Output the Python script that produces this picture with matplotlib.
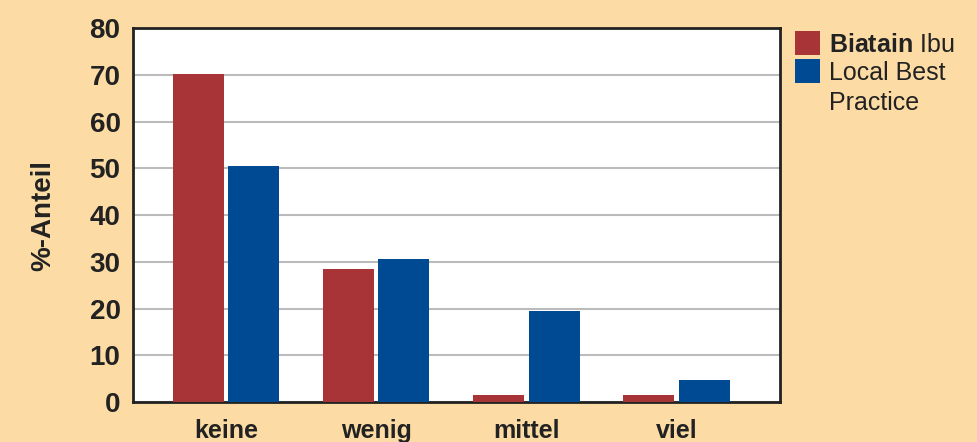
import numpy as np
import matplotlib.pyplot as plt

categories = ["keine", "wenig", "mittel", "viel"]
biatain = [70.2, 28.4, 1.6, 1.6]
local_best = [50.5, 30.6, 19.5, 4.6]
series_labels = [r"$\bf{Biatain}$ Ibu", "Local Best"]
label_tail = "Practice"
y_ticks = [0, 10, 20, 30, 40, 50, 60, 70, 80]

bg = "#FCDCA4"
red = "#A93438"
blue = "#004A93"
ink = "#222222"

plt.rcParams["font.family"] = ["Liberation Sans", "DejaVu Sans"]
plt.rcParams["mathtext.fontset"] = "custom"
plt.rcParams["mathtext.rm"] = "Liberation Sans"
plt.rcParams["mathtext.bf"] = "Liberation Sans:bold"

fig = plt.figure(figsize=(9.78, 4.42), dpi=100, facecolor=bg)
ax = fig.add_axes([0.136, 0.0905, 0.6615, 0.846])

x = np.arange(len(categories))
w = 0.34
off = 0.185
ax.bar(x - off, biatain, w, color=red, label=series_labels[0], zorder=3)
ax.bar(x + off, local_best, w, color=blue, label=series_labels[1], zorder=3)

ax.set_xlim(-0.62, 3.69)
ax.set_ylim(0, 80)
ax.set_yticks(y_ticks)
ax.set_yticklabels([str(t) for t in y_ticks], fontsize=20, fontweight="bold", color=ink)
ax.set_xticks(x)
ax.set_xticklabels(categories, fontsize=18, fontweight="bold", color=ink)
ax.tick_params(length=0, pad=9)
ax.tick_params(axis="x", pad=12)
ax.yaxis.grid(True, color="#BBBBBB", linewidth=1.5, zorder=0)
for s in ax.spines.values():
    s.set_linewidth(2)
    s.set_color(ink)

ax.set_ylabel("%-Anteil", fontsize=20, fontweight="bold", color=ink, labelpad=24)

leg = ax.legend(loc="upper left", bbox_to_anchor=(0.8, 0.958), bbox_transform=fig.transFigure,
                frameon=False, fontsize=18, handlelength=1.0, handleheight=1.1,
                handletextpad=0.35, labelspacing=0.1, borderpad=0)
for t in leg.get_texts():
    t.set_color(ink)

# third line of the second legend label
fig.canvas.draw()
bb = leg.get_texts()[1].get_window_extent().transformed(fig.transFigure.inverted())
fig.text(bb.x0, bb.y0 - 30 / 442, label_tail, fontsize=18, color=ink, ha="left", va="bottom")

fig.savefig("out.png", dpi=100, facecolor=bg)
